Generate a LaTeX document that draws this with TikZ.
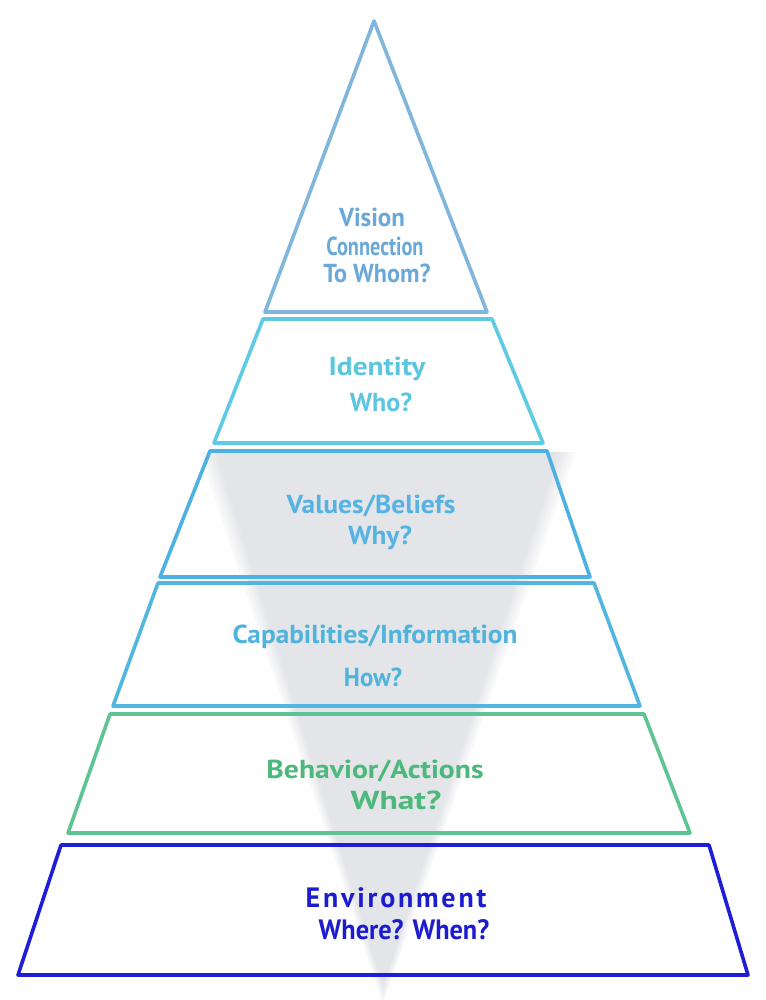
\documentclass[tikz,border=0pt]{standalone}
\usepackage{graphicx}
\usepackage{fontspec}
\setmainfont{PT Sans}
\definecolor{visioncol}{HTML}{80B6DC}
\definecolor{visiontxt}{HTML}{6AA8D8}
\definecolor{identcol}{HTML}{5FCAE3}
\definecolor{identtxt}{HTML}{5CC6E0}
\definecolor{valuecol}{HTML}{4DB1E4}
\definecolor{valuetxt}{HTML}{55B2E2}
\definecolor{capacol}{HTML}{52B6E0}
\definecolor{capatxt}{HTML}{4FB3DC}
\definecolor{behavcol}{HTML}{5EC493}
\definecolor{behavtxt}{HTML}{4DB87C}
\definecolor{envcol}{HTML}{1E1ED6}
\definecolor{envtxt}{HTML}{1C1CCF}
\definecolor{funnelgrey}{HTML}{C9CDD5}
\newcommand{\hsq}[2]{\scalebox{#1}[1]{#2}}
\begin{document}
\begin{tikzpicture}[x=1pt,y=-1pt,
  bandline/.style={draw=#1, line width=3.6pt, line join=round, line cap=round},
  lbl/.style={text=#1, font=\bfseries\fontsize{26}{30}\selectfont, inner sep=0pt, anchor=center},
  funnellayer/.style={fill=funnelgrey, opacity=0.1, draw=none}]
\useasboundingbox (0,0) rectangle (765,1000);
\fill[white] (0,0) rectangle (765,1000);
% soft funnel (inverted triangle)
\foreach \d in {14,10,6,3,0,-3} {
  \fill[funnellayer] (213-\d,452) -- (562+\d,452) -- (383,990+\d) -- cycle;
}
% pyramid bands
\draw[bandline=visioncol] (374,21) -- (487,312) -- (265,312) -- cycle;
\draw[bandline=identcol] (263,319) -- (492,319) -- (543,443) -- (214,443) -- cycle;
\draw[bandline=valuecol] (210,451) -- (547,451) -- (590,577) -- (160,577) -- cycle;
\draw[bandline=capacol] (158,583) -- (594,583) -- (640,706) -- (113,706) -- cycle;
\draw[bandline=behavcol] (110,714) -- (644,714) -- (690,833) -- (68,833) -- cycle;
\draw[bandline=envcol] (61,845) -- (709,845) -- (748,975) -- (18,975) -- cycle;
% labels
\node[lbl=visiontxt] (vision) at (372,217) {\hsq{0.96}{Vision}};
\node[lbl=visiontxt] (connection) at (375,246) {\hsq{0.78}{Connection}};
\node[lbl=visiontxt] (towhom) at (377,273) {\hsq{0.93}{To Whom?}};
\node[lbl=identtxt] (identity) at (377,369) {\hsq{1.13}{Identity}};
\node[lbl=identtxt] (who) at (381,402) {Who?};
\node[lbl=valuetxt] (values) at (371,506) {\hsq{1.06}{Values/Beliefs}};
\node[lbl=valuetxt] (why) at (380,538) {\hsq{1.05}{Why?}};
\node[lbl=capatxt] (capab) at (375,637) {\hsq{1.05}{Capabilities/Information}};
\node[lbl=capatxt] (how) at (373,677) {\hsq{0.95}{How?}};
\node[lbl=behavtxt] (behav) at (375,771) {\hsq{1.14}{Behavior/Actions}};
\node[lbl=behavtxt] (what) at (396,800) {\hsq{1.29}{What?}};
\node[lbl=envtxt, font=\bfseries\fontsize{28}{30}\selectfont] (environment) at (396,898) {\addfontfeature{LetterSpace=10}Environment};
\node[lbl=envtxt, font=\bfseries\fontsize{28}{30}\selectfont] (wherewhen) at (404,930) {\hsq{0.94}{Where? When?}};
\end{tikzpicture}
\end{document}
